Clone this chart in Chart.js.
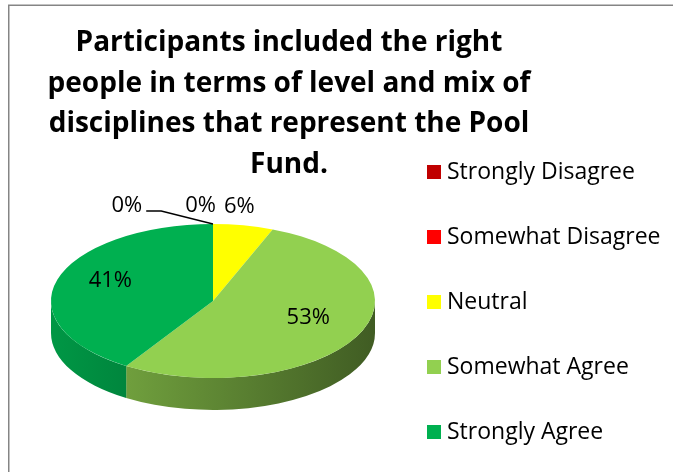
<!DOCTYPE html>
<html>
<head>
<meta charset="utf-8">
<script src="https://cdn.jsdelivr.net/npm/chart.js@4.4.1/dist/chart.umd.min.js"></script>
<style>
	html, body { margin: 0; padding: 0; background: #fff; }
	#wrap { width: 673px; height: 472px; }
</style>
</head>
<body>
<div id="wrap"><canvas id="myChart" width="673" height="472"></canvas></div>
<script>
'use strict';

const categories = ['Strongly Disagree', 'Somewhat Disagree', 'Neutral', 'Somewhat Agree', 'Strongly Agree'];
const percentages = [0, 0, 6, 53, 41];
const sliceColors = ['#c00000', '#ff0000', '#ffff00', '#92d050', '#00b050'];
const titleLines = [
	'Participants included the right',
	'people in terms of level and mix of',
	'disciplines that represent the Pool',
	'Fund.',
];

// the top face is the library's circle squashed vertically, the wall hangs below it
const TILT = 77 / 162;
const DEPTH = 32;
const FONT = '"Open Sans", Lato, sans-serif';

const pie3d = {
	id: 'pie3d',
	beforeDatasetsDraw(chart) {
		const ctx = chart.ctx;
		const arcs = chart.getDatasetMeta(0).data;

		// front wall, only the part between 3 and 9 o'clock is visible
		arcs.forEach((arc, i) => {
			const { x, y, startAngle, endAngle, outerRadius } = arcProps(arc);
			const a0 = Math.max(startAngle, 0);
			const a1 = Math.min(endAngle, Math.PI);
			if (a1 <= a0) return;
			const rx = outerRadius;
			const ry = outerRadius * TILT;
			const grad = ctx.createLinearGradient(x - rx, 0, x + rx, 0);
			grad.addColorStop(0, shade(sliceColors[i], 0.86));
			grad.addColorStop(1, shade(sliceColors[i], 0.44));
			ctx.beginPath();
			ctx.ellipse(x, y, rx, ry, 0, a0, a1, false);
			ctx.ellipse(x, y + DEPTH, rx, ry, 0, a1, a0, true);
			ctx.closePath();
			ctx.fillStyle = grad;
			ctx.fill();
		});

		const { x, y } = arcProps(arcs[0]);
		ctx.save();
		ctx.translate(x, y);
		ctx.scale(1, TILT);
		ctx.translate(-x, -y);
	},
	afterDatasetsDraw(chart) {
		chart.ctx.restore();
	},
};

const decorations = {
	id: 'decorations',
	afterDraw(chart) {
		const ctx = chart.ctx;
		drawFrame(ctx);
		drawTitle(ctx);
		drawLegend(ctx);
		drawLabels(chart);
	},
};

generateGraph();

function generateGraph() {
	const ctx = document.getElementById('myChart').getContext('2d');
	new Chart(ctx, {
		type: 'pie',
		data: {
			labels: categories,
			datasets: [
				{
					data: percentages,
					backgroundColor: sliceColors,
					borderWidth: 0,
					clip: false,
				},
			],
		},
		options: {
			responsive: false,
			animation: false,
			events: [],
			layout: { padding: { left: 51, right: 298, top: 139, bottom: 9 } },
			plugins: {
				legend: { display: false },
				title: { display: false },
				tooltip: { enabled: false },
			},
		},
		plugins: [pie3d, decorations],
	});
}

function shade(hex, f) {
	const n = parseInt(hex.slice(1), 16);
	const r = Math.round(((n >> 16) & 255) * f);
	const g = Math.round(((n >> 8) & 255) * f);
	const b = Math.round((n & 255) * f);
	return `rgb(${r},${g},${b})`;
}

function arcProps(arc) {
	return arc.getProps(['x', 'y', 'startAngle', 'endAngle', 'outerRadius'], true);
}

function drawFrame(ctx) {
	ctx.save();
	ctx.strokeStyle = '#858585';
	ctx.lineWidth = 1.5;
	ctx.beginPath();
	ctx.moveTo(8.75, 472);
	ctx.lineTo(8.75, 5.25);
	ctx.lineTo(673, 5.25);
	ctx.stroke();
	ctx.restore();
}

function drawTitle(ctx) {
	ctx.save();
	ctx.font = `bold 28px ${FONT}`;
	ctx.fillStyle = '#000';
	ctx.textAlign = 'center';
	ctx.textBaseline = 'alphabetic';
	titleLines.forEach((line, i) => {
		ctx.fillText(line, 289, 51 + i * 40.5);
	});
	ctx.restore();
}

function drawLegend(ctx) {
	ctx.save();
	ctx.font = `23px ${FONT}`;
	ctx.textAlign = 'left';
	ctx.textBaseline = 'middle';
	categories.forEach((name, i) => {
		const rowY = 172 + i * 65;
		ctx.fillStyle = sliceColors[i];
		ctx.fillRect(427, rowY - 7, 14, 14);
		ctx.fillStyle = '#000';
		ctx.fillText(name, 447, rowY);
	});
	ctx.restore();
}

function drawLabels(chart) {
	const ctx = chart.ctx;
	const arcs = chart.getDatasetMeta(0).data;
	ctx.save();
	ctx.font = `22px ${FONT}`;
	ctx.fillStyle = '#000';
	ctx.strokeStyle = '#000';
	ctx.lineWidth = 1.3;
	ctx.textAlign = 'center';

	// big slices: label inside the top face
	arcs.forEach((arc, i) => {
		if (percentages[i] < 10) return;
		const { x, y, startAngle, endAngle, outerRadius } = arcProps(arc);
		const mid = (startAngle + endAngle) / 2;
		ctx.textBaseline = 'middle';
		ctx.fillText(percentages[i] + '%', x + Math.cos(mid) * outerRadius * 0.66, y + Math.sin(mid) * outerRadius * TILT * 0.66 - 6);
	});

	// small slices: label above the rim, pushed left when they crowd
	let leftEdge = Infinity;
	for (let i = arcs.length - 1; i >= 0; i--) {
		if (percentages[i] >= 10) continue;
		const { x, y, startAngle, endAngle, outerRadius } = arcProps(arcs[i]);
		const mid = (startAngle + endAngle) / 2;
		const ex = x + Math.cos(mid) * outerRadius;
		const ey = y + Math.sin(mid) * outerRadius * TILT;
		const text = percentages[i] + '%';
		const w = ctx.measureText(text).width;
		let cx = Math.min(ex - 4, leftEdge - 8 - w / 2);
		const baseY = ey - 12;
		const leader = ex - cx > w;
		if (leader) cx -= 35;
		ctx.textBaseline = 'alphabetic';
		ctx.fillText(text, cx, baseY);
		if (leader) {
			const sx = cx + w / 2 + 4;
			ctx.beginPath();
			ctx.moveTo(sx, baseY - 1);
			ctx.lineTo(sx + 15, baseY - 1);
			ctx.lineTo(ex, ey);
			ctx.stroke();
		}
		leftEdge = cx - w / 2;
	}
	ctx.restore();
}
</script>
</body>
</html>
